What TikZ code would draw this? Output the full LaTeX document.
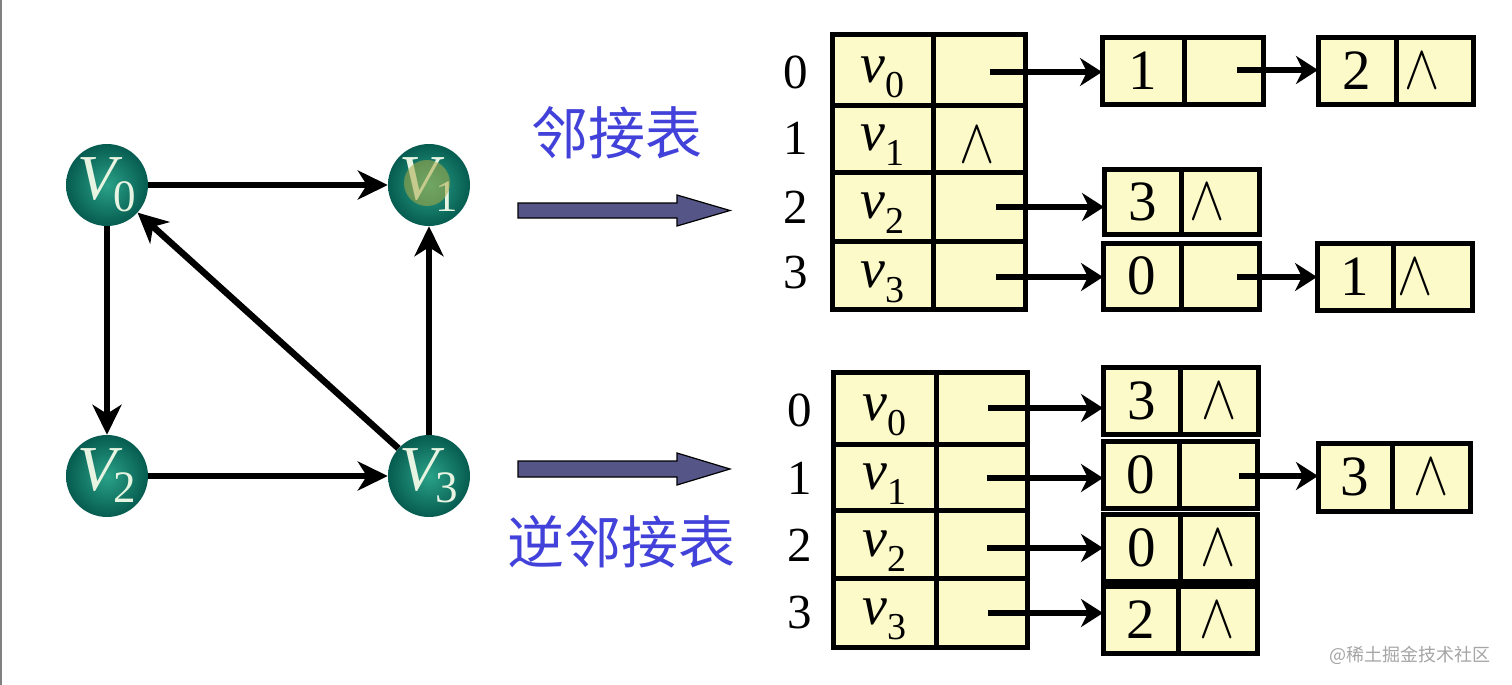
\documentclass[tikz,border=0pt]{standalone}
\usepackage{fontspec}
\setmainfont{Liberation Serif}
\newfontfamily\cjk{Noto Sans CJK SC}
\usepackage{graphicx}
\usetikzlibrary{arrows.meta}
\definecolor{cellfill}{RGB}{252,250,200}
\definecolor{cnblue}{RGB}{66,66,218}
\definecolor{arrfill}{RGB}{85,85,135}
\definecolor{nodein}{RGB}{42,162,136}
\definecolor{nodeout}{RGB}{6,92,80}
\definecolor{vtext}{RGB}{232,244,226}
\definecolor{hilite}{RGB}{170,170,70}
\definecolor{wmark}{RGB}{165,165,165}
\newcommand\gV[1]{{\itshape V}\kern-3pt\raisebox{-12pt}{\fontsize{45}{45}\selectfont #1}}
\newcommand\tv[1]{{\itshape v}\kern1pt\raisebox{-15pt}{\fontsize{38}{38}\selectfont #1}}
\newcommand\nil{\scalebox{5.3}[6.3]{$\wedge$}}
\tikzset{
  gnode/.style={circle, minimum size=82pt, inner sep=0pt, inner color=nodein, outer color=nodeout,
    text=vtext, font=\fontsize{64}{64}\selectfont},
  gedge/.style={line width=6.5pt, -{Stealth[length=30pt,width=29pt,inset=9pt]}},
  cell/.style n args={2}{draw, line width=5pt, fill=cellfill, inner sep=0pt, outer sep=0pt,
    minimum width=#1pt, minimum height=#2pt},
  ptr/.style={line width=6pt, -{Stealth[length=22pt,width=28pt,inset=7pt]}},
  idx/.style={font=\fontsize{49}{49}\selectfont, inner sep=0pt},
  dig/.style={font=\fontsize{57}{57}\selectfont, inner sep=0pt},
  vlab/.style={font=\fontsize{56}{56}\selectfont, inner sep=0pt},
  cnlab/.style={font=\cjk\fontsize{57}{57}\selectfont, text=cnblue, inner sep=0pt},
  bigarrow/.style={draw=black, line width=1.2pt, fill=arrfill, line join=miter}
}
\begin{document}
\begin{tikzpicture}[x=1pt, y=-1pt]
\useasboundingbox (0,0) rectangle (1512,685);
\fill[white] (0,0) rectangle (1512,685);
\draw[gray, line width=2pt] (1,0) -- (1,685);

% ---------- graph ----------
\node[gnode] (V0) at (107,185) {\gV{0}};
\node[gnode] (V1) at (429,185) {\gV{1}};
\node[gnode] (V2) at (107,476) {\gV{2}};
\node[gnode] (V3) at (429,476) {\gV{3}};
\fill[hilite, opacity=0.55] (427,183) circle (23pt);
\draw[gedge] (V0) -- (V1);
\draw[gedge] (V0) -- (V2);
\draw[gedge] (V2) -- (V3);
\draw[gedge] (V3) -- (V1);
\draw[gedge] (V3) -- (V0);

% ---------- big arrows and labels ----------
\node[cnlab] (lab1) at (617,133) {邻接表};
\node[cnlab] (lab2) at (621,542) {逆邻接表};
\draw[bigarrow] (518,203) -- (677,203) -- (677,195) -- (730,210.5) -- (677,226) -- (677,218) -- (518,218) -- cycle;
\draw[bigarrow] (518,461) -- (677,461) -- (677,453) -- (730,469) -- (677,485) -- (677,477) -- (518,477) -- cycle;

% ---------- adjacency list (top) ----------
\node[cell={101}{70}] (ha0) at (882.5,70) {};
\node[cell={92}{70}] (hb0) at (979,70) {};
\node[cell={101}{67}] (ha1) at (882.5,138.5) {};
\node[cell={92}{67}] (hb1) at (979,138.5) {};
\node[cell={101}{69}] (ha2) at (882.5,206.5) {};
\node[cell={92}{69}] (hb2) at (979,206.5) {};
\node[cell={101}{68}] (ha3) at (882.5,275) {};
\node[cell={92}{68}] (hb3) at (979,275) {};
\node[vlab] at ([yshift=-7pt]ha0.center) {\tv{0}};
\node[vlab] at ([yshift=-7pt]ha1.center) {\tv{1}};
\node[vlab] at ([yshift=-7pt]ha2.center) {\tv{2}};
\node[vlab] at ([yshift=-7pt]ha3.center) {\tv{3}};
\node[inner sep=0pt] at (977,145) {\nil};
\node[idx] (hi0) at (796,72) {0};
\node[idx] (hi1) at (796,138) {1};
\node[idx] (hi2) at (796,207) {2};
\node[idx] (hi3) at (796,273) {3};

\node[cell={82}{66}] (t0ad) at (1143,71) {};
\node[cell={79}{66}] (t0an) at (1223.5,71) {};
\node[dig] at (t0ad) {1};
\node[cell={78}{66}] (t0bd) at (1357,71) {};
\node[cell={77}{66}] (t0bn) at (1434.5,71) {};
\node[dig] at (t0bd) {2};
\node[inner sep=0pt] at ([xshift=-12pt]t0bn.center) {\nil};

\node[cell={77}{65}] (t2ad) at (1142.5,201.5) {};
\node[cell={78}{65}] (t2an) at (1220,201.5) {};
\node[dig] at (t2ad) {3};
\node[inner sep=0pt] at ([xshift=-13pt]t2an.center) {\nil};

\node[cell={78}{66}] (t3ad) at (1142,276) {};
\node[cell={78}{66}] (t3an) at (1220,276) {};
\node[dig] at (t3ad) {0};
\node[cell={76}{67}] (t3bd) at (1355,276.5) {};
\node[cell={79}{67}] (t3bn) at (1432.5,276.5) {};
\node[dig] at (t3bd) {1};
\node[inner sep=0pt] at ([xshift=-17pt]t3bn.center) {\nil};

\coordinate (hp0) at (990,72);
\coordinate (hp2) at (996,207);
\coordinate (hp3) at (996,277);
\coordinate (tp0) at (1237,70);
\coordinate (tp3) at (1237,277);
\draw[ptr] (hp0) -- (hp0 -| t0ad.west);
\draw[ptr] (tp0) -- (tp0 -| t0bd.west);
\draw[ptr] (hp2) -- (hp2 -| t2ad.west);
\draw[ptr] (hp3) -- (hp3 -| t3ad.west);
\draw[ptr] (tp3) -- (tp3 -| t3bd.west);

% ---------- inverse adjacency list (bottom) ----------
\node[cell={103}{72}] (ga0) at (884.5,408) {};
\node[cell={91}{72}] (gb0) at (981.5,408) {};
\node[cell={103}{66}] (ga1) at (884.5,477) {};
\node[cell={91}{66}] (gb1) at (981.5,477) {};
\node[cell={103}{68}] (ga2) at (884.5,544) {};
\node[cell={91}{68}] (gb2) at (981.5,544) {};
\node[cell={103}{69}] (ga3) at (884.5,612.5) {};
\node[cell={91}{69}] (gb3) at (981.5,612.5) {};
\node[vlab] at ([yshift=-7pt]ga0.center) {\tv{0}};
\node[vlab] at ([yshift=-7pt]ga1.center) {\tv{1}};
\node[vlab] at ([yshift=-7pt]ga2.center) {\tv{2}};
\node[vlab] at ([yshift=-7pt]ga3.center) {\tv{3}};
\node[idx] (gi0) at (800,410) {0};
\node[idx] (gi1) at (800,478) {1};
\node[idx] (gi2) at (800,545) {2};
\node[idx] (gi3) at (800,613) {3};

\node[cell={77}{67}] (b0d) at (1141.5,400.5) {};
\node[cell={78}{67}] (b0n) at (1219,400.5) {};
\node[dig] at (b0d) {3};
\node[inner sep=0pt] at (b0n) {\nil};

\node[cell={76}{67}] (b1ad) at (1141,474.5) {};
\node[cell={78}{67}] (b1an) at (1218,474.5) {};
\node[dig] at (b1ad) {0};
\node[cell={74}{68}] (b1bd) at (1355,477) {};
\node[cell={78}{68}] (b1bn) at (1431,477) {};
\node[dig] at (b1bd) {3};
\node[inner sep=0pt] at (b1bn) {\nil};

\node[cell={77}{67}] (b2d) at (1141.5,547.5) {};
\node[cell={77}{67}] (b2n) at (1218.5,547.5) {};
\node[dig] at (b2d) {0};
\node[inner sep=0pt] at (b2n) {\nil};

\node[cell={75}{67}] (b3d) at (1140.5,619.5) {};
\node[cell={79}{67}] (b3n) at (1217.5,619.5) {};
\node[dig] at (b3d) {2};
\node[inner sep=0pt] at (b3n) {\nil};

\coordinate (gp0) at (988,408);
\coordinate (gp1) at (987,478);
\coordinate (gp2) at (987,548);
\coordinate (gp3) at (988,613);
\coordinate (bp1) at (1239,476);
\draw[ptr] (gp0) -- (gp0 -| b0d.west);
\draw[ptr] (gp1) -- (gp1 -| b1ad.west);
\draw[ptr] (gp2) -- (gp2 -| b2d.west);
\draw[ptr] (gp3) -- (gp3 -| b3d.west);
\draw[ptr] (bp1) -- (bp1 -| b1bd.west);

% ---------- watermark ----------
\node[font=\cjk\fontsize{18}{18}\selectfont, text=wmark, inner sep=0pt] (wm) at (1410,655) {@稀土掘金技术社区};
\end{tikzpicture}
\end{document}
